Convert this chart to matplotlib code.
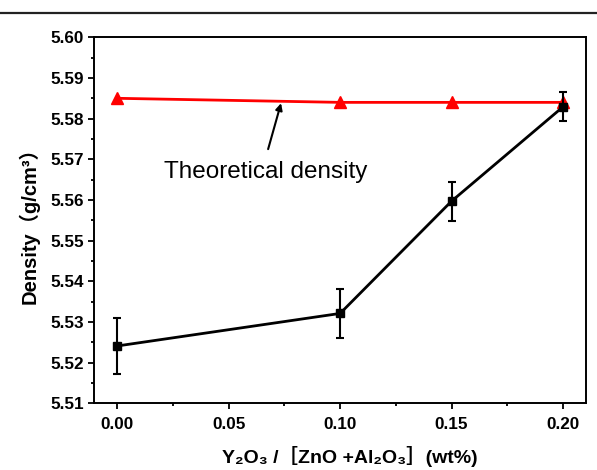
import matplotlib
matplotlib.use("Agg")
import matplotlib.pyplot as plt
from matplotlib.ticker import MultipleLocator, FormatStrFormatter
from matplotlib.lines import Line2D

x_vals = [0.00, 0.10, 0.15, 0.20]
measured = [5.5241, 5.5321, 5.5597, 5.5829]
measured_err = [0.0069, 0.0060, 0.0048, 0.0036]
theoretical = [5.5850, 5.5840, 5.5840, 5.5840]

fig = plt.figure(figsize=(5.97, 4.70), dpi=100)
ax = fig.add_axes([94.3 / 597, 1 - 403.3 / 470, (585.7 - 94.3) / 597, (403.3 - 37.3) / 470])

ax.plot(x_vals, theoretical, color='#ff0000', lw=2.0, marker='^', markersize=8,
        markerfacecolor='#ff0000', markeredgecolor='#ff0000', zorder=3)
ax.errorbar(x_vals, measured, yerr=measured_err, color='black', lw=2.0, marker='s',
            markersize=5.5, capsize=3.2, elinewidth=1.5, capthick=1.5, zorder=4)

ax.set_xlim(-0.0103, 0.2102)
ax.set_ylim(5.51, 5.60)
ax.xaxis.set_major_locator(MultipleLocator(0.05))
ax.xaxis.set_minor_locator(MultipleLocator(0.025))
ax.yaxis.set_major_locator(MultipleLocator(0.01))
ax.yaxis.set_minor_locator(MultipleLocator(0.005))
ax.xaxis.set_major_formatter(FormatStrFormatter('%.2f'))
ax.yaxis.set_major_formatter(FormatStrFormatter('%.2f'))

ax.tick_params(which='both', direction='out', top=False, right=False, width=1.3)
ax.tick_params(which='major', length=4.5, labelsize=12.3)
ax.tick_params(axis='x', which='major', pad=5.5)
ax.tick_params(axis='y', which='major', pad=3)
ax.tick_params(which='minor', length=2.5)
for lab in ax.get_xticklabels() + ax.get_yticklabels():
    lab.set_fontweight('bold')
    lab.set_family('Liberation Sans')
for sp in ax.spines.values():
    sp.set_linewidth(1.4)

fam = ['Liberation Sans', 'Noto Sans CJK SC', 'DejaVu Sans']
ax.set_xlabel('Y₂O₃ /［ZnO +Al₂O₃］(wt%)', family=fam, fontweight='bold',
              fontsize=14, labelpad=10)
ax.xaxis.label.set_x(0.52)
ax.set_ylabel('Density（g/cm³）', family=fam, fontweight='bold',
              fontsize=14.5, labelpad=8)

ax.annotate('', xy=(0.0735, 5.5838), xytext=(0.0677, 5.5725),
            arrowprops=dict(arrowstyle='-|>', color='black', lw=1.5,
                            mutation_scale=10, shrinkA=0, shrinkB=0))
ax.text(0.0668, 5.5669, 'Theoretical density', family='Liberation Sans',
        fontsize=17.5, ha='center', va='center')

fig.add_artist(Line2D([0, 1], [1 - 12.7 / 470, 1 - 12.7 / 470],
                      transform=fig.transFigure, color='#222222', lw=1.6))

fig.savefig('out.png', dpi=100)
